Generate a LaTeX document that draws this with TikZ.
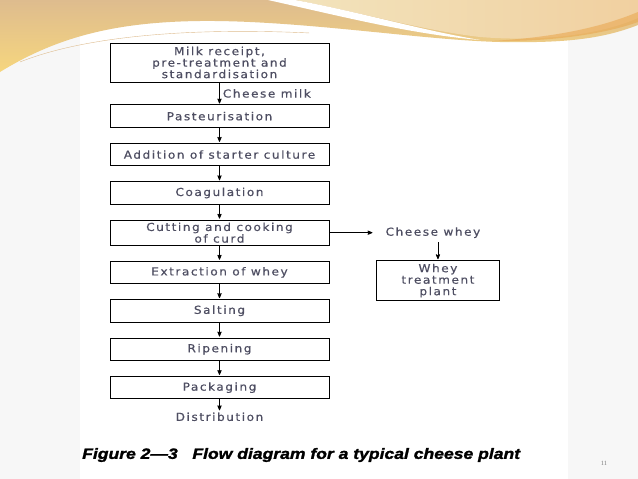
\documentclass[tikz,border=0pt]{standalone}
\usepackage{fontspec}
\newfontfamily\boxfont[LetterSpace=14, FakeStretch=1.1, FakeBold=0.5]{DejaVu Sans}
\newfontfamily\capfont[FakeStretch=1.17, FakeBold=1.5]{Liberation Sans}
\newfontfamily\numfont{Liberation Serif}
\usetikzlibrary{positioning, arrows}

\definecolor{txtgray}{RGB}{78,78,98}
\definecolor{wavetan}{RGB}{222,188,142}
\definecolor{waveyellow}{RGB}{246,214,126}
\definecolor{wavecream}{RGB}{242,227,188}
\definecolor{wavepeach}{RGB}{241,208,160}
\definecolor{waveorange}{RGB}{233,168,82}
\definecolor{slidebg}{RGB}{247,247,247}

\tikzset{
  stage/.style = {draw, line width=0.9pt, minimum width=219pt, minimum height=22.5pt, inner sep=1pt,
    align=center, text=txtgray, font=\boxfont\fontsize{11}{11}\selectfont},
  flowlabel/.style = {text=txtgray, inner sep=3pt, font=\boxfont\fontsize{11}{11}\selectfont},
}

\begin{document}
\begin{tikzpicture}[x=1pt, y=-1pt, >=stealth', shorten >= 1pt, auto, node distance = 15pt]
  \useasboundingbox (0,0) rectangle (638,479);
  % slide and figure background
  \fill[slidebg] (0,0) rectangle (638,479);
  \fill[white] (80,20) rectangle (568,479);
  % header waves
  \shade[top color=wavetan, bottom color=waveyellow]
    (0,0) -- (638,0) -- (638,25) .. controls (600,40) and (560,43) .. (500,42)
    .. controls (420,40) and (300,20) .. (200,21) .. controls (120,22) and (60,35) .. (0,72) -- cycle;
  \shade[left color=wavecream, right color=wavepeach]
    (295,0) .. controls (360,12) and (420,30) .. (480,37) .. controls (540,42) and (600,35) .. (638,18) -- (638,0) -- cycle;
  \fill[white] (268,0) .. controls (340,16) and (410,34) .. (480,40)
    .. controls (420,30) and (360,12) .. (295,0) -- cycle;
  \fill[waveorange, opacity=0.6] (490,41) .. controls (560,42) and (610,32) .. (638,22)
    -- (638,12) .. controls (600,28) and (550,38) .. (490,41) -- cycle;
  \draw[wavetan, line width=0.4pt] (20,62) .. controls (80,38) and (180,27) .. (310,33);

  % main flow
  \node[stage, minimum height=39pt, font=\boxfont\fontsize{11}{11.5}\selectfont] (milk) at (219.5,62.5) {Milk receipt,\\pre-treatment and\\standardisation};
  \node[stage] (past) [below = 22pt of milk] {Pasteurisation};
  \node[stage] (starter) [below = of past] {Addition of starter culture};
  \node[stage] (coag) [below = of starter] {Coagulation};
  \node[stage, inner ysep=2.5pt, font=\boxfont\fontsize{11}{10.5}\selectfont] (cut) [below = of coag] {Cutting and cooking\\of curd};
  \node[stage] (extract) [below = of cut] {Extraction of whey};
  \node[stage] (salt) [below = of extract] {Salting};
  \node[stage] (ripen) [below = of salt] {Ripening};
  \node[stage] (pack) [below = of ripen] {Packaging};
  \node[flowlabel, inner ysep=1pt] (distr) [below = 12pt of pack] {Distribution};

  % whey branch
  \node[flowlabel, inner xsep=12pt, inner ysep=4pt] (whey) [right = 44pt of cut] {Cheese whey};
  \node[stage, minimum width=123pt, minimum height=40pt, font=\boxfont\fontsize{11}{11.5}\selectfont] (plant) [below = 18pt of whey, xshift=5pt] {Whey\\treatment\\plant};

  \path[->, line width=0.8pt]
    (milk) edge node[flowlabel] {Cheese milk} (past)
    (past) edge (starter)
    (starter) edge (coag)
    (coag) edge (cut)
    (cut) edge (extract)
    (extract) edge (salt)
    (salt) edge (ripen)
    (ripen) edge (pack)
    (pack) edge (distr)
    (cut) edge (cut -| whey.west)
    (whey.south -| plant.north) edge (plant)
  ;

  \node[anchor=west, inner sep=0pt, font=\capfont\bfseries\itshape\fontsize{15}{16}\selectfont] (caption) at (82,455)
    {Figure 2—3\ \ \ Flow diagram for a typical cheese plant};
  \node[text=gray, font=\numfont\fontsize{6.5}{7}\selectfont] (pagenum) at (604,463) {11};
\end{tikzpicture}
\end{document}
